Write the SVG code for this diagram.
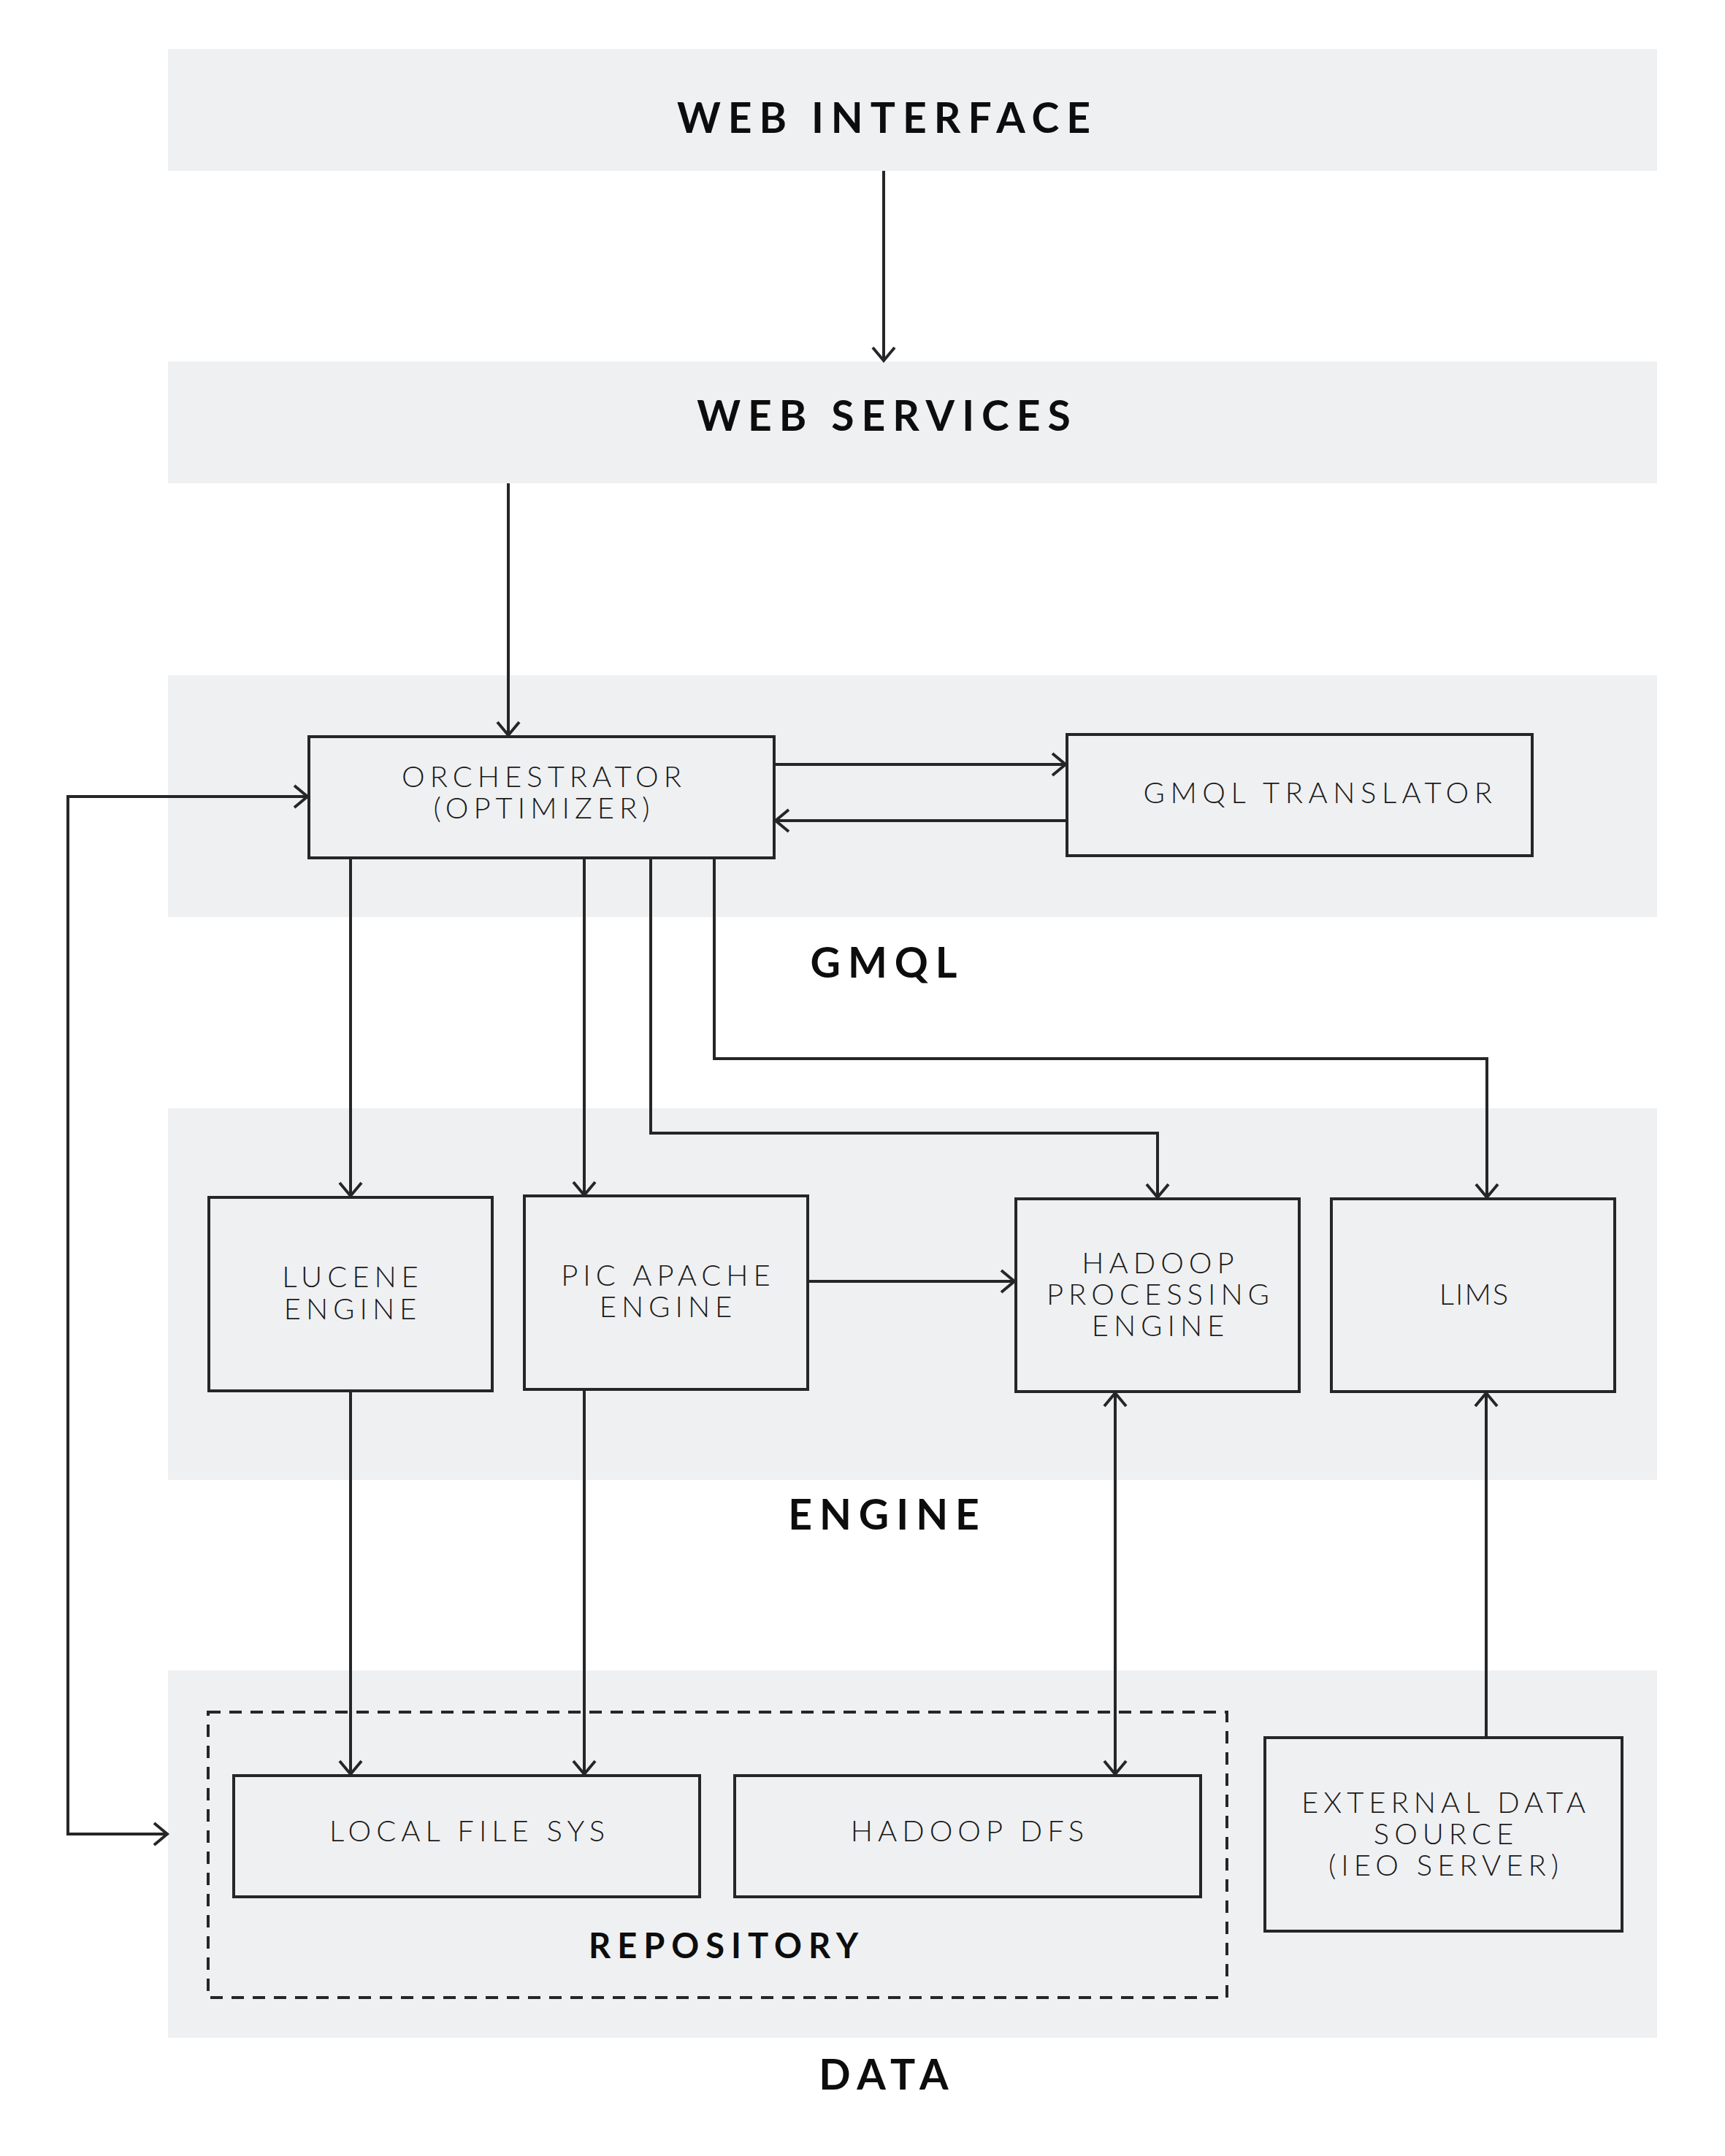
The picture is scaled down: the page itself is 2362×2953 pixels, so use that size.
<svg xmlns="http://www.w3.org/2000/svg" width="2362" height="2953" viewBox="0 0 2362 2953">
<style>
.band{fill:#eff0f2}
.box{fill:#eff0f2;stroke:#262626;stroke-width:4}
.dash{fill:none;stroke:#262626;stroke-width:4;stroke-dasharray:17 12}
.title{font-family:Lato,"Liberation Sans",sans-serif;font-weight:700;font-size:57px;letter-spacing:10px;fill:#0d0d0d;text-anchor:middle}
.lbl{font-family:Lato,"Liberation Sans",sans-serif;font-weight:300;font-size:40px;letter-spacing:7px;fill:#1a1a1a;text-anchor:middle}
.sub{font-family:Lato,"Liberation Sans",sans-serif;font-weight:700;font-size:47px;letter-spacing:9px;fill:#0d0d0d;text-anchor:middle}
.conn{fill:none;stroke:#262626;stroke-width:4}
</style>
<defs>
<marker id="ah" markerUnits="userSpaceOnUse" viewBox="-22 -18 26 36" refX="0" refY="0" markerWidth="26" markerHeight="36" orient="auto-start-reverse">
<path d="M-18,-15 L0,0 L-18,15" fill="none" stroke="#262626" stroke-width="4"/>
</marker>
</defs>
<rect width="2362" height="2953" fill="#ffffff"/>
<g id="bands">
<rect class="band" x="230" y="67" width="2039" height="167"/>
<rect class="band" x="230" y="495" width="2039" height="167"/>
<rect class="band" x="230" y="925" width="2039" height="331"/>
<rect class="band" x="230" y="1518" width="2039" height="509"/>
<rect class="band" x="230" y="2288" width="2039" height="503"/>
</g>
<g id="web-interface"><text class="title" x="1215" y="182">WEB INTERFACE</text></g>
<g id="web-services"><text class="title" x="1215" y="590">WEB SERVICES</text></g>
<g id="gmql-label"><text class="title" x="1215" y="1339">GMQL</text></g>
<g id="engine-label"><text class="title" x="1215" y="2095">ENGINE</text></g>
<g id="data-label"><text class="title" x="1215" y="2862">DATA</text></g>
<g id="repository">
<rect class="dash" x="285" y="2345" width="1395" height="391"/>
<text class="sub" x="995" y="2682">REPOSITORY</text>
</g>
<g id="orchestrator">
<rect class="box" x="423" y="1009" width="637" height="166"/>
<text class="lbl" x="745" y="1078">ORCHESTRATOR</text>
<text class="lbl" x="745" y="1121">(OPTIMIZER)</text>
</g>
<g id="gmql-translator">
<rect class="box" x="1461" y="1006" width="637" height="166"/>
<text class="lbl" x="1808" y="1100" style="letter-spacing:7.5px">GMQL TRANSLATOR</text>
</g>
<g id="lucene">
<rect class="box" x="286" y="1640" width="388" height="265"/>
<text class="lbl" x="483" y="1763">LUCENE</text>
<text class="lbl" x="483" y="1807">ENGINE</text>
</g>
<g id="pic-apache">
<rect class="box" x="718" y="1638" width="388" height="265"/>
<text class="lbl" x="915" y="1761">PIC APACHE</text>
<text class="lbl" x="915" y="1804">ENGINE</text>
</g>
<g id="hadoop-engine">
<rect class="box" x="1391" y="1642" width="388" height="264"/>
<text class="lbl" x="1589" y="1744">HADOOP</text>
<text class="lbl" x="1589" y="1787">PROCESSING</text>
<text class="lbl" x="1589" y="1830">ENGINE</text>
</g>
<g id="lims">
<rect class="box" x="1823" y="1642" width="388" height="264"/>
<text class="lbl" x="2019" y="1787" style="letter-spacing:2px">LIMS</text>
</g>
<g id="local-fs">
<rect class="box" x="320" y="2432" width="638" height="166"/>
<text class="lbl" x="643" y="2522">LOCAL FILE SYS</text>
</g>
<g id="hadoop-dfs">
<rect class="box" x="1006" y="2432" width="638" height="166"/>
<text class="lbl" x="1328" y="2522">HADOOP DFS</text>
</g>
<g id="external">
<rect class="box" x="1732" y="2380" width="489" height="265"/>
<text class="lbl" x="1980" y="2483">EXTERNAL DATA</text>
<text class="lbl" x="1980" y="2526">SOURCE</text>
<text class="lbl" x="1980" y="2569">(IEO SERVER)</text>
</g>
<g id="connectors">
<path class="conn" d="M1210,234 V494" marker-end="url(#ah)"/>
<path class="conn" d="M696,662 V1007" marker-end="url(#ah)"/>
<path class="conn" d="M1060,1047 H1459" marker-end="url(#ah)"/>
<path class="conn" d="M1461,1124 H1062" marker-end="url(#ah)"/>
<path class="conn" d="M421,1091 H93 V2512 H229" marker-start="url(#ah)" marker-end="url(#ah)"/>
<path class="conn" d="M480,1175 V1638" marker-end="url(#ah)"/>
<path class="conn" d="M800,1175 V1637" marker-end="url(#ah)"/>
<path class="conn" d="M891,1175 V1552 H1585 V1640" marker-end="url(#ah)"/>
<path class="conn" d="M978,1175 V1450 H2036 V1640" marker-end="url(#ah)"/>
<path class="conn" d="M1106,1755 H1389" marker-end="url(#ah)"/>
<path class="conn" d="M480,1905 V2430" marker-end="url(#ah)"/>
<path class="conn" d="M800,1903 V2430" marker-end="url(#ah)"/>
<path class="conn" d="M1527,1908 V2430" marker-start="url(#ah)" marker-end="url(#ah)"/>
<path class="conn" d="M2035,2378 V1908" marker-end="url(#ah)"/>
</g>
</svg>
